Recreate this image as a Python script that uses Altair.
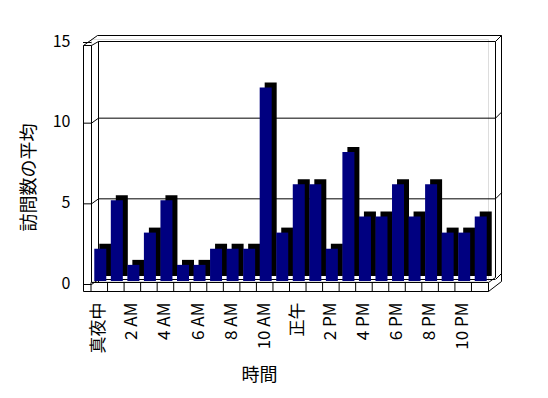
import altair as alt
import pandas as pd

# ---- data ----
hours = ["真夜中", "1 AM", "2 AM", "3 AM", "4 AM", "5 AM", "6 AM", "7 AM",
         "8 AM", "9 AM", "10 AM", "11 AM", "正午", "1 PM", "2 PM", "3 PM",
         "4 PM", "5 PM", "6 PM", "7 PM", "8 PM", "9 PM", "10 PM", "11 PM"]
visits = [2, 5, 1, 3, 5, 1, 1, 2, 2, 2, 12, 3, 6, 6, 2, 8, 4, 4, 6, 4, 6, 3, 3, 4]
shown_labels = hours[::2]
y_ticks = [0, 5, 10, 15]

df = pd.DataFrame({"hour": hours, "visits": visits})
ticks_df = pd.DataFrame({"visits": y_ticks})
grid_df = pd.DataFrame({"visits": [0, 5, 10]})
one = pd.DataFrame({"a": [0]})

FONT = "Noto Sans CJK JP"
W, H = 397, 242

xsc = alt.Scale(domain=hours, paddingInner=0, paddingOuter=0)
ysc = alt.Scale(domain=[0, 15], nice=False, zero=True)

common = dict(labelFont=FONT, titleFont=FONT, labelColor="black",
              titleColor="black", titleFontWeight="normal", labelFontWeight="normal")

xaxis = alt.Axis(title="時間", values=shown_labels, labelAngle=-90,
                 labelPadding=21, tickSize=0, ticks=False, domain=False,
                 labelFontSize=17, titleFontSize=18,
                 titleX=168, titleY=94, titleAlign="center",
                 titleBaseline="middle", **common)
yaxis = alt.Axis(title="訪問数の平均", values=y_ticks, ticks=False,
                 tickSize=0, domain=False, grid=False, labelPadding=21,
                 labelOffset=2, labelFontSize=16, titleFontSize=18,
                 titleX=-62, titleY=138, titleAngle=-90,
                 titleAlign="center", titleBaseline="middle", **common)


def X(**kw):
    return alt.X("hour:N", scale=xsc, sort=hours, axis=xaxis, **kw)


def Y():
    return alt.Y("visits:Q", scale=ysc, axis=yaxis)


def seg(x1, y1, x2, y2):
    return alt.Chart(one).mark_rule(color="black", strokeWidth=1).encode(
        x=alt.value(x1 + 0.5), x2=alt.value(x2 + 0.5),
        y=alt.value(y1 + 0.5), y2=alt.value(y2 + 0.5))


frame = [
    seg(-8, 6, -8, 252),
    seg(0, 6, 0, 243),
    seg(7, 2, 7, 243),
    seg(-8, 6, 0, 6),
    seg(-8, 6, 6, -4),
    seg(0, 6, 7, 2),
    seg(6, -4, 410, -4),
    seg(7, 2, 404, 2),
    seg(404, 2, 404, 238),
    seg(410, -4, 410, 242),
    seg(404, 2, 410, -4),
    seg(-8, 252, 397, 252),
    seg(0, 243, 397, 243),
    seg(397, 252, 410, 242),
    seg(397, 243, 404, 238),
    seg(397, 243, 397, 252),
]

grid = alt.Chart(grid_df).mark_rule(color="black", yOffset=-1.5).encode(
    y=Y(), x=alt.value(7), x2=alt.value(404))
gridr = alt.Chart(grid_df).mark_rule(color="black", yOffset=-1.5, y2Offset=-7.5).encode(
    y=Y(), y2=alt.Y2("visits"),
    x=alt.value(404.5), x2=alt.value(410.5))
fticks = alt.Chart(ticks_df).mark_rule(color="black", yOffset=3.5).encode(
    y=Y(), x=alt.value(-8), x2=alt.value(0.5))
conn = alt.Chart(grid_df).mark_rule(color="black", yOffset=3.5, y2Offset=-1.5).encode(
    y=Y(), y2=alt.Y2("visits"),
    x=alt.value(0.5), x2=alt.value(7.5))

dividers = alt.Chart(df).mark_rule(color="black").encode(
    x=X(bandPosition=0), y=alt.value(243.5), y2=alt.value(252.5))

depth = alt.Chart(df).mark_bar(color="black", width=12, xOffset=6, yOffset=-5).encode(
    x=X(), y=Y())

bars = alt.Chart(df).mark_bar(color="#000080", width=12, xOffset=1).encode(
    x=X(), y=Y())

chart = alt.layer(*frame, grid, gridr, fticks, conn, dividers, depth, bars).properties(
    width=W, height=H,
    autosize=alt.AutoSizeParams(type="none"),
    padding={"left": 83, "top": 31, "right": 52, "bottom": 109},
).configure_view(stroke=None).configure(background="white", font=FONT)

chart.save("out.html", embed_options={"renderer": "svg", "actions": False})
